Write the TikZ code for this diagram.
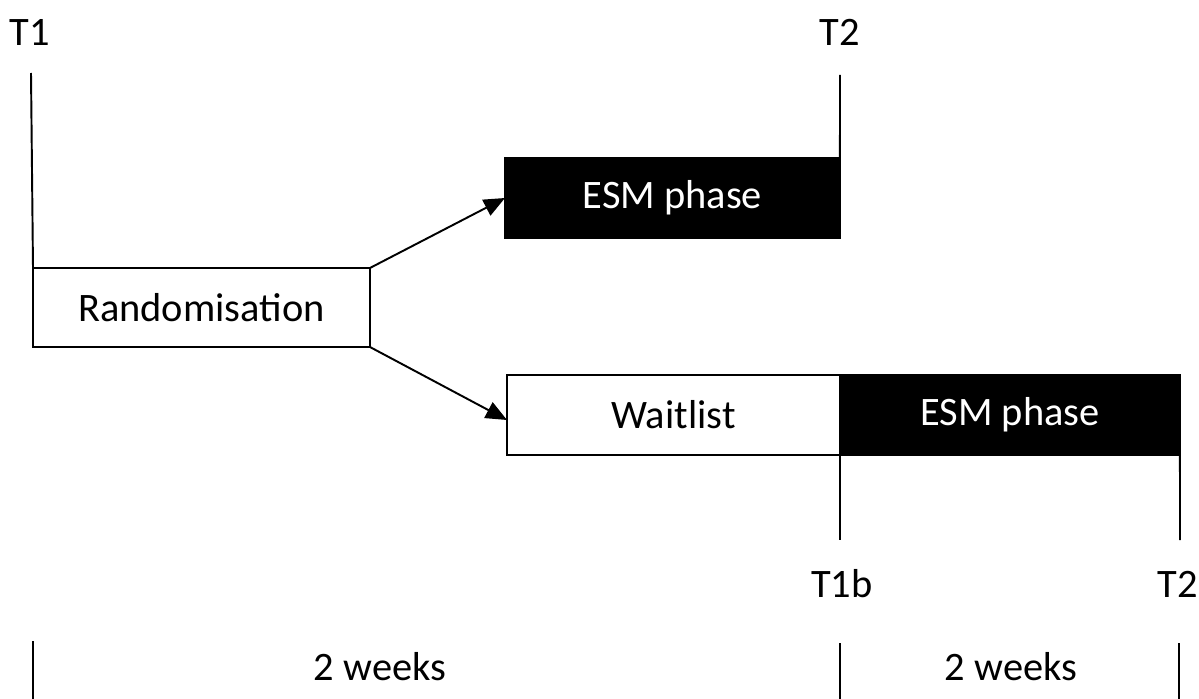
\documentclass[tikz,border=0pt]{standalone}
\usepackage{fontspec}
\setmainfont{Carlito}
\usepackage{tikz}
\usetikzlibrary{arrows.meta, positioning}

\begin{document}
\begin{tikzpicture}[x=0.02cm, y=-0.02cm, line width=1.1pt,
    every node/.style={font=\fontsize{23}{27}\selectfont},
    phasebox/.style={draw, rectangle, inner sep=0pt, outer sep=0pt, anchor=north west, minimum height=1.6cm},
    esmbox/.style={phasebox, fill=black, text=white},
    timelabel/.style={anchor=base, inner sep=0pt},
    arr/.style={-{Triangle[length=12pt, width=10pt]}}]
  \useasboundingbox (0,0) rectangle (1199,699);
  % boxes
  \node[phasebox, minimum width=6.74cm, minimum height=1.58cm] (rand) at (33,268) {Randomisation};
  \node[esmbox, minimum width=6.7cm] (esmA) at (505,158) {ESM phase};
  \node[phasebox, minimum width=6.66cm] (wait) at (507,375) {Waitlist};
  \node[esmbox, minimum width=6.8cm] (esmB) at (840,375) {ESM phase};
  % time points
  \node[timelabel] (t1) at (30,46) {T1};
  \node[timelabel] (t2a) at (840,46) {T2};
  \node[timelabel] (t1b) at (842,597) {T1b};
  \node[timelabel] (t2b) at (1178,597) {T2};
  \coordinate (t1end) at (31,73);
  \coordinate (t2aend) at (840,75);
  \coordinate (t1bend) at (840,540);
  \coordinate (t2bend) at (1180,540);
  \draw (t1end) -- (rand.north west);
  \draw (t2aend) -- (esmA.north east);
  \draw (esmB.south west) -- (t1bend);
  \draw (esmB.south east) -- (t2bend);
  % arrows
  \draw[arr] (rand.north east) -- (esmA.west);
  \draw[arr] (rand.south east) -- ([yshift=-0.1cm]wait.west);
  % durations
  \node[timelabel] (wkA) at (380,680) {2 weeks};
  \node[timelabel] (wkB) at (1011,680) {2 weeks};
  \draw (33,641) -- (33,699);
  \draw (840,643) -- (840,699);
  \draw (1179,643) -- (1179,699);
\end{tikzpicture}
\end{document}
